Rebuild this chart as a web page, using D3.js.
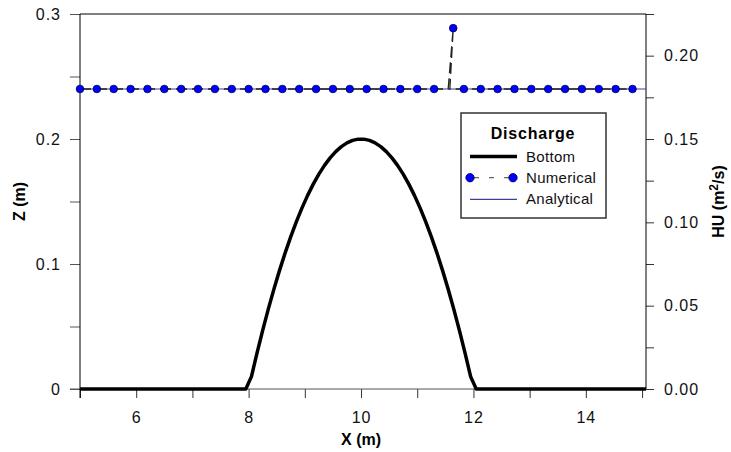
<!DOCTYPE html>
<html>
<head>
<meta charset="utf-8">
<script src="https://cdn.jsdelivr.net/npm/d3@7"></script>
<style>
  body { margin: 0; background: #fff; }
  text { font-family: "Liberation Sans", Arial, sans-serif; }
</style>
</head>
<body>
<svg id="chart" width="731" height="452"></svg>
<script>
// ---- data ----
const bottomX = [5.0, 7.95, 8.05, 8.15, 8.25, 8.35, 8.45, 8.55, 8.65, 8.75, 8.85, 8.95, 9.05, 9.15, 9.25, 9.35, 9.45, 9.55, 9.65, 9.75, 9.85, 9.95,
                 10.05, 10.15, 10.25, 10.35, 10.45, 10.55, 10.65, 10.75, 10.85, 10.95, 11.05, 11.15, 11.25, 11.35, 11.45, 11.55, 11.65, 11.75, 11.85, 11.95, 12.05, 15.07];
const bottomZ = [0, 0, 0.0099, 0.0289, 0.0469, 0.0639, 0.0799, 0.0949, 0.1089, 0.1219, 0.1339, 0.1449, 0.1549, 0.1639, 0.1719, 0.1789, 0.1849, 0.1899, 0.1939, 0.1969, 0.1989, 0.1999,
                 0.1999, 0.1989, 0.1969, 0.1939, 0.1899, 0.1849, 0.1789, 0.1719, 0.1639, 0.1549, 0.1449, 0.1339, 0.1219, 0.1089, 0.0949, 0.0799, 0.0639, 0.0469, 0.0289, 0.0099, 0, 0];

const numX = [5.0, 5.3, 5.6, 5.9, 6.2, 6.5, 6.8, 7.1, 7.4, 7.7, 8.0, 8.3, 8.6, 8.9, 9.2, 9.5, 9.8, 10.1, 10.4, 10.7, 11.0, 11.3,
              11.55, 11.64, 11.58,
              11.83, 12.13, 12.43, 12.73, 13.03, 13.33, 13.63, 13.93, 14.23, 14.53, 14.83];
const numHU = [0.18, 0.18, 0.18, 0.18, 0.18, 0.18, 0.18, 0.18, 0.18, 0.18, 0.18, 0.18, 0.18, 0.18, 0.18, 0.18, 0.18, 0.18, 0.18, 0.18, 0.18, 0.18,
               0.18, 0.2165, 0.18,
               0.18, 0.18, 0.18, 0.18, 0.18, 0.18, 0.18, 0.18, 0.18, 0.18, 0.18];
const numSymbol = [1,1,1,1,1,1,1,1,1,1,1,1,1,1,1,1,1,1,1,1,1,1,
                   0,1,0,
                   1,1,1,1,1,1,1,1,1,1,1];

const anaX = [5.0, 15.07];
const anaHU = [0.18, 0.18];

const xTicks = [5, 6, 7, 8, 9, 10, 11, 12, 13, 14, 15];
const xTickLabels = ["", "6", "", "8", "", "10", "", "12", "", "14", ""];
const zTicks = [0, 0.05, 0.1, 0.15, 0.2, 0.25, 0.3];
const zTickLabels = ["0", "", "0.1", "", "0.2", "", "0.3"];
const huTicks = [0, 0.025, 0.05, 0.075, 0.1, 0.125, 0.15, 0.175, 0.2, 0.225];
const huTickLabels = ["0.00", "", "0.05", "", "0.10", "", "0.15", "", "0.20", ""];

const legendTitle = "Discharge";
const legendItems = ["Bottom", "Numerical", "Analytical"];

// ---- layout ----
const L = 80, R = 646, T = 14, B = 389;
const svg = d3.select("#chart");

const x = d3.scaleLinear().domain([5, 15.07]).range([L, R]);
const yZ = d3.scaleLinear().domain([0, 0.3]).range([B, T]);
const yH = d3.scaleLinear().domain([0, 0.225]).range([B, T]);

// frame lines
svg.append("line").attr("x1", L).attr("x2", R).attr("y1", T).attr("y2", T).attr("stroke", "#000").attr("stroke-width", 1);

// bottom axis
const gx = svg.append("g").attr("transform", `translate(0,${B})`)
  .call(d3.axisBottom(x).tickValues(xTicks).tickSizeInner(9).tickSizeOuter(0).tickPadding(14)
        .tickFormat((d, i) => xTickLabels[i]));
gx.select(".domain").remove();
gx.selectAll(".tick line").attr("stroke", "#333");
gx.selectAll(".tick text").attr("font-size", 16).attr("letter-spacing", 1).attr("fill", "#111")
  .attr("font-family", "Liberation Sans, Arial, sans-serif");
svg.append("line").attr("x1", 70).attr("x2", R).attr("y1", B).attr("y2", B).attr("stroke", "#555").attr("stroke-width", 1);

// left axis
const gl = svg.append("g").attr("transform", `translate(${L},0)`)
  .call(d3.axisLeft(yZ).tickValues(zTicks).tickSizeInner(10).tickSizeOuter(0).tickPadding(9)
        .tickFormat((d, i) => zTickLabels[i]));
gl.select(".domain").remove();
gl.selectAll(".tick line").attr("stroke", "#555");
gl.selectAll(".tick text").attr("font-size", 16).attr("letter-spacing", 1).attr("fill", "#111")
  .attr("font-family", "Liberation Sans, Arial, sans-serif");
svg.append("line").attr("x1", L).attr("x2", L).attr("y1", T).attr("y2", 398).attr("stroke", "#000").attr("stroke-width", 1);

// right axis
const gr = svg.append("g").attr("transform", `translate(${R},0)`)
  .call(d3.axisRight(yH).tickValues(huTicks).tickSizeInner(8).tickSizeOuter(0).tickPadding(10)
        .tickFormat((d, i) => huTickLabels[i]));
gr.select(".domain").remove();
gr.selectAll(".tick line").attr("stroke", "#333");
gr.selectAll(".tick text").attr("font-size", 16).attr("letter-spacing", 1).attr("fill", "#111")
  .attr("font-family", "Liberation Sans, Arial, sans-serif");
svg.append("line").attr("x1", R).attr("x2", R).attr("y1", T).attr("y2", B).attr("stroke", "#000").attr("stroke-width", 1);

// axis titles
svg.append("text").attr("transform", `translate(25,${(T + B) / 2}) rotate(-90)`)
  .attr("text-anchor", "middle").attr("font-size", 16).attr("font-weight", "bold").text("Z (m)");
const hu = svg.append("text").attr("transform", `translate(724,${(T + B) / 2}) rotate(-90)`)
  .attr("text-anchor", "middle").attr("font-size", 16).attr("font-weight", "bold");
hu.append("tspan").text("HU (m");
hu.append("tspan").attr("dy", -6).attr("font-size", 12).text("2");
hu.append("tspan").attr("dy", 6).text("/s)");
svg.append("text").attr("x", x(10)).attr("y", 445).attr("text-anchor", "middle")
  .attr("font-size", 16).attr("font-weight", "bold").text("X (m)");

// analytical
const anaData = anaX.map((d, i) => [d, anaHU[i]]);
svg.append("path").datum(anaData)
  .attr("d", d3.line().x(d => x(d[0])).y(d => yH(d[1])))
  .attr("fill", "none").attr("stroke", "#3f3f96").attr("stroke-width", 1.2);

// numerical
const numData = numX.map((d, i) => [d, numHU[i], numSymbol[i]]);
svg.append("path").datum(numData)
  .attr("d", d3.line().x(d => x(d[0])).y(d => yH(d[1])))
  .attr("fill", "none").attr("stroke", "#222").attr("stroke-width", 1.3).attr("stroke-dasharray", "11,5");
svg.selectAll("circle.num").data(numData.filter(d => d[2])).enter().append("circle")
  .attr("class", "num").attr("cx", d => x(d[0])).attr("cy", d => yH(d[1])).attr("r", 3.8)
  .attr("fill", "#0000ff").attr("stroke", "#000050").attr("stroke-width", 0.8);

// bottom
const botData = bottomX.map((d, i) => [d, bottomZ[i]]);
svg.append("path").datum(botData)
  .attr("d", d3.line().x(d => x(d[0])).y(d => yZ(d[1])))
  .attr("fill", "none").attr("stroke", "#000").attr("stroke-width", 3.5).attr("stroke-linejoin", "round");

// legend
const lg = svg.append("g");
lg.append("rect").attr("x", 461).attr("y", 113).attr("width", 145).attr("height", 105)
  .attr("fill", "#fff").attr("stroke", "#333").attr("stroke-width", 1.5);
lg.append("text").attr("x", 533).attr("y", 139).attr("text-anchor", "middle")
  .attr("font-size", 16).attr("font-weight", "bold").attr("letter-spacing", 0.8).text(legendTitle);
const rowY = [156.5, 177.7, 199.3];
lg.append("line").attr("x1", 470).attr("x2", 517).attr("y1", rowY[0]).attr("y2", rowY[0])
  .attr("stroke", "#000").attr("stroke-width", 3.5);
lg.append("line").attr("x1", 470).attr("x2", 513).attr("y1", rowY[1]).attr("y2", rowY[1])
  .attr("stroke", "#666").attr("stroke-width", 1.2).attr("stroke-dasharray", "5,10").attr("stroke-dashoffset", -4);
[470, 513].forEach(cx => lg.append("circle").attr("cx", cx).attr("cy", rowY[1]).attr("r", 4.2)
  .attr("fill", "#0000ff").attr("stroke", "#000050").attr("stroke-width", 0.8));
lg.append("line").attr("x1", 470).attr("x2", 517).attr("y1", rowY[2]).attr("y2", rowY[2])
  .attr("stroke", "#3f3f96").attr("stroke-width", 1.2);
legendItems.forEach((t, i) => lg.append("text").attr("x", 526).attr("y", rowY[i] + 5)
  .attr("font-size", 15).attr("letter-spacing", 0.3).attr("fill", "#111").text(t));
</script>
</body>
</html>
